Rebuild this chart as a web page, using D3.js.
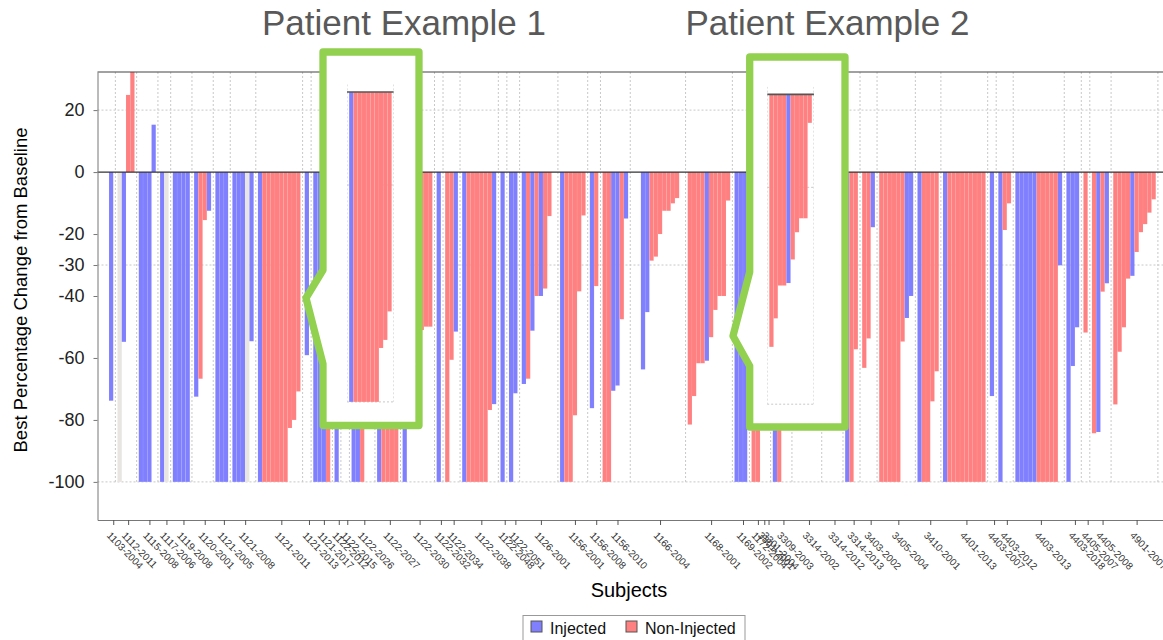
<!DOCTYPE html>
<html>
<head>
  <meta charset="utf-8">
  <title>Best percentage change by subject</title>
  <style type="text/css">
    body { margin: 0; background: #fff; }
    svg { display: block; font-family: "Liberation Sans", Arial, sans-serif; }
  </style>
</head>
<body>

<div id="chart"></div>

<script src="https://d3js.org/d3.v7.min.js"></script>
<script type="text/javascript">
// subjects in plotting order, and empty bar slots left before each one
var subjects = ["1103-2004","1112-2011","1115-2008","1117-2006","1119-2008","1120-2001","1121-2005","1121-2008",
  "1121-2011","1121-2013","1121-2017","1122-2012","1122-2015","1122-2026","1122-2027","1122-2030","1122-2032",
  "1122-2034","1122-2038","1122-2048","1122-2051","1126-2001","1156-2001","1156-2008","1156-2010","1166-2004",
  "1168-2001","1169-2002","1172-2004","3301-2001","3301-2004","3309-2003","3314-2002","3314-2012","3314-2013",
  "3403-2002","3405-2004","3410-2001","4401-2013","4403-2007","4403-2012","4403-2013","4403-2018","4405-2007",
  "4405-2008","4901-2007"];
var gapBefore = [0,1,1,1,1,1,1,1, 1,1,1,1,1,1,1,1,1, 1,1,1,1,1,1,1,1,1, 1,1,1,0,0,1,1,1,1, 1,1,1,1,1,1,1,1,1, 1,1];

// best % change per lesion (null = no bar drawn)
var lesionValues = [
  [-73.8],
  [-100, -54.8, 24.9, 40],
  [-100, -100, -100, 15.3],
  [-100, -100],
  [-100, -100, -100, -100],
  [-72.5, -66.7, -15.5, -12.5],
  [-100, -100, -100],
  [-100, -100, -100, -100, -54.6],
  [-100, -100, -100, -100, -100, -100, -100, -82.6, -80, -70.8],
  [-59.1],
  [-100, -100, -100, -100],
  [-100],
  [-64],
  [-100, -100, -100, -74, -55],
  [-100, -100, -100, -100, -100],
  [-100, -80, -71, -60, -51, -49.9, -49.9],
  [-100],
  [-100, -60.6, -51.5],
  [-100, -100, -100, -100, -100, -100, -76.8, -74.9],
  [-100],
  [-100, -71.4],
  [-68.4, -66.7, -51.2, -40, -40, -37.6, -14.2, null],
  [-100, -100, -100, -78.5, -38.5, -14],
  [-76.2, -36.8],
  [-100, -100, -70.6, -68.9, -47.5, -15],
  [null, null, -63.7, -45.2, -28.6, -27.3, -20, -12.5, -12.5, -10.1, -8.4, null],
  [-81.5, -72.3, -61.7, -61.7, -60.9, -53.3, -44.5, -40, -40, -9.2],
  [-100, -100, -100],
  [-100, -100],
  [-45],
  [-30],
  [-100, -100, -60, -25],
  [-78, -65, -52, -40, -28, -10],
  [-70, -48, -30, -12],
  [-100, -100, -57.2],
  [-63.2, -53.7, -17.8],
  [-100, -100, -100, -100, -100, -54.7, -47.1, -40],
  [-100, -100, -100, -74, -64.3],
  [-100, -100, -100, -100, -100, -100, -100, -100, -100, -100],
  [-72.3],
  [-100, -18.7, -10.1],
  [-100, -100, -100, -100, -100, -100, -100, -100, -100, -100, -30.1],
  [-100, -62.6, -50.1],
  [-51.8],
  [-84.3, -83.9, -38.6, -35.9],
  [-75, -58, -50.1, -34.4, -33.5, -25.8, -19.4, -16.8, -13.1, -8.8]
];
// lesion type per bar: I = injected, N = non-injected, G = grey, - = none
var lesionTypes = ["I","GINN","IIII","IG","IIII","INNI","III","IIIGI","INNNNNNNNN","I","IIIN","I","I","IINNN",
  "INNNN","INNNNNN","I","NNI","INNNNNNI","I","II","INININN-","INNNNN","IN","NNIINI","--IINNNNNNN-",
  "NNNNINNNNN","III","NN","N","I","INNN","NNINNN","NNIN","INN","NNI","NNNNNNII","INNNN","INNNNNNNNN","I",
  "INN","IIIIINNNNNI","III","N","NINI","NNNNINNNNN"];

var yTicks = [20, 0, -20, -30, -40, -60, -80, -100];
var refLines = [20, -30, -100];
var legendKeys = ["I", "N"];
var legendLabels = ["Injected", "Non-Injected"];
var exampleSubjects = ["1121-2011", "1168-2001"];
var exampleTitles = ["Patient Example 1", "Patient Example 2"];

var width = 1163, height = 640;

var svg = d3.select("#chart").append("svg")
  .attr("width", width)
  .attr("height", height);

var x = d3.scaleLinear().domain([-2.7, 247.7]).range([97.5, 1163]);
var y = d3.scaleLinear().domain([-112.3, 32.3]).range([520, 72]);
var color = d3.scaleOrdinal().domain(["I", "N", "G"]).range(["#8080ff", "#ff8080", "#e8e5e2"]);

// lay subjects out on slots
var groups = [], slot = 0;
subjects.forEach(function(s, i) {
  slot += gapBefore[i];
  groups.push({ name: s, start: slot, n: lesionValues[i].length, values: lesionValues[i], types: lesionTypes[i] });
  slot += lesionValues[i].length;
});
var bars = [];
groups.forEach(function(g) {
  g.values.forEach(function(v, j) {
    if (v !== null) bars.push({ slot: g.start + j, value: v, type: g.types[j], group: g.name });
  });
});

var defs = svg.append("defs");
defs.append("clipPath").attr("id", "plot-clip")
  .append("rect").attr("x", x.range()[0]).attr("y", y(32.3)).attr("width", x.range()[1] - x.range()[0]).attr("height", y(-112.3) - y(32.3));

function drawGrid(g, x0, x1, seps) {
  g.selectAll("line.ref").data(refLines).join("line")
    .attr("class", "ref")
    .attr("x1", x0).attr("x2", x1)
    .attr("y1", d => y(d)).attr("y2", d => y(d))
    .attr("stroke", "#c8c8c8").attr("stroke-dasharray", "2,2");
  g.selectAll("line.sep").data(seps).join("line")
    .attr("class", "sep")
    .attr("x1", d => x(d)).attr("x2", d => x(d))
    .attr("y1", y(32.3)).attr("y2", y(-100))
    .attr("stroke", "#c8c8c8").attr("stroke-dasharray", "2,2");
}

function drawBars(g, data) {
  g.selectAll("rect.bar").data(data).join("rect")
    .attr("class", "bar")
    .attr("x", d => x(d.slot))
    .attr("width", d => x(d.slot + 1) - x(d.slot))
    .attr("y", d => y(Math.max(0, d.value)))
    .attr("height", d => Math.abs(y(d.value) - y(0)))
    .attr("fill", d => color(d.type))
    .attr("stroke", "#ffffff").attr("stroke-opacity", 0.1).attr("stroke-width", 0.5);
}

// separators sit in the empty slot after each subject
var seps = groups.filter(function(g, i) { return i === groups.length - 1 || gapBefore[i + 1] > 0; })
  .map(g => g.start + g.n + 0.5);

var plot = svg.append("g");
drawGrid(plot, x.range()[0], x.range()[1], seps);
drawBars(plot.append("g").attr("clip-path", "url(#plot-clip)"), bars);

plot.append("line")
  .attr("x1", x.range()[0]).attr("x2", x.range()[1])
  .attr("y1", y(0)).attr("y2", y(0))
  .attr("stroke", "#333").attr("stroke-width", 1.2);
plot.append("line")
  .attr("x1", x.range()[0]).attr("x2", x.range()[1])
  .attr("y1", y(32.3)).attr("y2", y(32.3))
  .attr("stroke", "#444").attr("stroke-width", 1.2);

// y axis
var yAxis = svg.append("g")
  .attr("transform", "translate(" + x.range()[0] + ",0)")
  .call(d3.axisLeft(y).tickValues(yTicks).tickSize(4).tickSizeOuter(0).tickPadding(9).tickFormat(d => String(d)));
yAxis.select(".domain").attr("stroke", "#777");
yAxis.selectAll(".tick line").attr("stroke", "#777");
yAxis.selectAll("text").attr("font-size", 18).attr("font-family", "Liberation Sans, Arial, sans-serif").attr("fill", "#222");

// x axis, one tick per subject
var tickPos = groups.map(g => g.start + g.n / 2 + 0.5);
var nameAt = new Map(groups.map(g => [g.start + g.n / 2 + 0.5, g.name]));
var xAxis = svg.append("g")
  .attr("transform", "translate(0," + y(-112.3) + ")")
  .call(d3.axisBottom(x).tickValues(tickPos).tickSize(5).tickSizeOuter(0).tickFormat(d => nameAt.get(d)));
xAxis.select(".domain").attr("stroke", "#777");
xAxis.selectAll(".tick line").attr("stroke", "#555");
xAxis.selectAll("text")
  .attr("x", 0).attr("y", 0).attr("dy", 0)
  .attr("transform", "translate(-7.5,16) rotate(46)")
  .attr("text-anchor", "start")
  .attr("font-size", 10)
  .attr("font-family", "Liberation Sans, Arial, sans-serif")
  .attr("fill", "#333");

svg.append("text")
  .attr("transform", "translate(27,290) rotate(-90)")
  .attr("text-anchor", "middle")
  .attr("font-size", 18.5)
  .attr("fill", "#000")
  .text("Best Percentage Change from Baseline");

svg.append("text")
  .attr("x", 629).attr("y", 597)
  .attr("text-anchor", "middle")
  .attr("font-size", 20)
  .attr("fill", "#000")
  .text("Subjects");

// legend
var legend = svg.append("g");
legend.append("rect")
  .attr("x", 523).attr("y", 615.5).attr("width", 222).attr("height", 30)
  .attr("fill", "#fff").attr("stroke", "#999");
var legendX = [531, 626];
legendKeys.forEach(function(k, i) {
  legend.append("rect")
    .attr("x", legendX[i]).attr("y", 621).attr("width", 11).attr("height", 11)
    .attr("fill", color(k)).attr("stroke", "#555");
  legend.append("text")
    .attr("x", legendX[i] + 19).attr("y", 634)
    .attr("font-size", 16).attr("fill", "#111")
    .text(legendLabels[i]);
});

// callouts with zoomed copies of two subjects
var callouts = [
  { box: [323, 52, 419, 425.5], notch: [270, 306, 298, 364], shift: [91.2, -80], titleX: 404 },
  { box: [749.7, 57, 845, 427], notch: [272, 733, 336, 366], shift: [81.6, -77.7], titleX: 827.5 }
];

callouts.forEach(function(c, i) {
  var b = c.box, n = c.notch;
  svg.append("path")
    .attr("d", "M" + b[0] + "," + b[1] + "H" + b[2] + "V" + b[3] + "H" + b[0] + "V" + n[3] +
      "L" + n[1] + "," + n[2] + "L" + b[0] + "," + n[0] + "Z")
    .attr("fill", "#fff")
    .attr("stroke", "#92d050").attr("stroke-width", 7.3).attr("stroke-linejoin", "round");

  var g = groups.find(d => d.name === exampleSubjects[i]);
  var x0 = x(g.start - 0.5), x1 = x(g.start + g.n + 0.5);
  defs.append("clipPath").attr("id", "inset-clip-" + i)
    .append("rect").attr("x", x0).attr("y", y(2.5)).attr("width", x1 - x0).attr("height", y(-100) - y(2.5) + 1);

  var inset = svg.append("g")
    .attr("transform", "translate(" + c.shift[0] + "," + c.shift[1] + ")")
    .attr("clip-path", "url(#inset-clip-" + i + ")");
  inset.selectAll("line.ref").data([-30, -100]).join("line")
    .attr("x1", x0).attr("x2", x1).attr("y1", d => y(d)).attr("y2", d => y(d))
    .attr("stroke", "#c8c8c8").attr("stroke-dasharray", "2,2");
  inset.selectAll("line.sep").data([g.start - 0.5, g.start + g.n + 0.5]).join("line")
    .attr("x1", d => x(d)).attr("x2", d => x(d)).attr("y1", y(2.5)).attr("y2", y(-100))
    .attr("stroke", "#c8c8c8").attr("stroke-dasharray", "2,2");
  drawBars(inset.append("g"), bars.filter(d => d.group === g.name));
  inset.append("line")
    .attr("x1", x0).attr("x2", x1).attr("y1", y(0)).attr("y2", y(0))
    .attr("stroke", "#555").attr("stroke-width", 1.6);

  svg.append("text")
    .attr("x", c.titleX).attr("y", 35)
    .attr("text-anchor", "middle")
    .attr("font-size", 35)
    .attr("fill", "#595959")
    .text(exampleTitles[i]);
});
</script>
</body>
</html>
